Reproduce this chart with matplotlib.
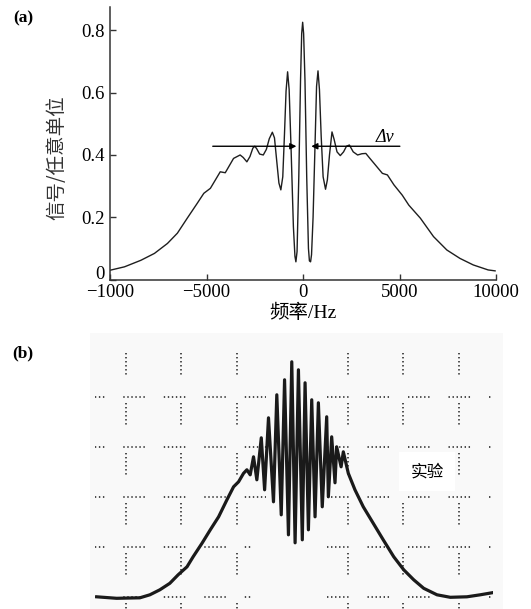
import matplotlib
matplotlib.use("Agg")
import matplotlib.pyplot as plt
import matplotlib.transforms as mtransforms
from matplotlib.patches import Rectangle

# -------------------------------
# (a) calculated spectrum
# -------------------------------
top_freq = [-10000, -9250, -8400, -7700, -7025, -6510, -6000, -5480, -5140, -4800,
            -4540, -4290, -4030, -3600, -3260, -3100, -2910, -2750, -2600, -2500,
            -2400, -2250, -2060, -1900, -1750, -1590, -1480, -1370, -1250, -1150,
            -1050, -960, -880, -800, -720, -620, -500, -420, -370, -310,
            -220, -130, -70, -20, 30, 100, 190, 280, 330, 390,
            440, 520, 620, 700, 775, 850, 940, 1040, 1165, 1260,
            1370, 1500, 1610, 1760, 1930, 2100, 2250, 2400, 2600, 2826,
            3050, 3253, 3450, 3680, 4110, 4370, 4710, 5140, 5480, 6080,
            6760, 7450, 8130, 8820, 9590, 9950]
top_signal = [0.030, 0.041, 0.062, 0.084, 0.116, 0.149, 0.197, 0.245, 0.277, 0.293,
              0.320, 0.346, 0.343, 0.389, 0.400, 0.392, 0.378, 0.395, 0.422, 0.428,
              0.420, 0.403, 0.400, 0.418, 0.452, 0.473, 0.455, 0.385, 0.310, 0.288,
              0.330, 0.470, 0.605, 0.667, 0.610, 0.420, 0.170, 0.075, 0.057, 0.090,
              0.330, 0.640, 0.790, 0.826, 0.790, 0.640, 0.330, 0.100, 0.060, 0.057,
              0.080, 0.200, 0.430, 0.620, 0.670, 0.610, 0.460, 0.330, 0.290, 0.320,
              0.400, 0.474, 0.450, 0.410, 0.398, 0.410, 0.428, 0.432, 0.410, 0.400,
              0.404, 0.405, 0.390, 0.373, 0.341, 0.336, 0.304, 0.271, 0.239, 0.197,
              0.138, 0.095, 0.068, 0.047, 0.031, 0.028]

x_ticks = [-10000, -5000, 0, 5000, 10000]
x_ticklabels = ["\u22121000", "\u22125000", "0", "5000", "10000"]
y_ticks = [0, 0.2, 0.4, 0.6, 0.8]
y_ticklabels = ["0", "0.2", "0.4", "0.6", "0.8"]

# -------------------------------
# (b) oscilloscope trace (grid divisions)
# -------------------------------
scope_x = [-3.53, -3.17, -2.75, -2.57, -2.39, -2.21, -2.06, -1.90, -1.79, -1.63,
           -1.48, -1.33, -1.18, -1.06, -0.97, -0.88, -0.82, -0.76, -0.70, -0.64,
           -0.56, -0.50, -0.43, -0.34, -0.28, -0.20, -0.14, -0.07, -0.01, 0.05,
           0.11, 0.18, 0.23, 0.29, 0.35, 0.41, 0.47, 0.54, 0.62, 0.65,
           0.71, 0.77, 0.80, 0.88, 0.92, 1.01, 1.13, 1.28, 1.46, 1.64,
           1.83, 2.01, 2.19, 2.37, 2.61, 2.85, 3.15, 3.39, 3.60]
scope_y = [0.01, -0.02, -0.01, 0.05, 0.15, 0.28, 0.45, 0.61, 0.81, 1.08,
           1.35, 1.61, 1.95, 2.21, 2.31, 2.48, 2.55, 2.45, 2.81, 2.35,
           3.19, 2.15, 3.59, 1.91, 4.05, 1.65, 4.35, 1.25, 4.71, 1.09,
           4.55, 1.15, 4.29, 1.35, 3.95, 1.61, 3.89, 1.81, 3.61, 2.01,
           3.21, 2.29, 3.01, 2.61, 2.91, 2.48, 2.15, 1.81, 1.48, 1.15,
           0.81, 0.55, 0.35, 0.18, 0.05, 0.00, 0.01, 0.05, 0.09]

grid_cols = [-3, -2, -1, 1, 2, 3]
grid_rows = [0, 1, 2, 3, 4]

plt.rcParams['lines.scale_dashes'] = False
serif = ['Liberation Serif', 'Noto Sans CJK SC']
cjk = ['Noto Sans CJK SC', 'DejaVu Sans']

fig = plt.figure(figsize=(5.31, 6.09), dpi=100)

# ---- panel (a) ----
ax1 = fig.add_axes([0.2072, 0.5409, 0.7270, 0.4476])
ax1.plot(top_freq, top_signal, color='#1e1e1e', lw=1.0)
ax1.set_xlim(-10000, 10000)
ax1.set_ylim(0, 0.875)
ax1.spines['top'].set_visible(False)
ax1.spines['right'].set_visible(False)
for s in ['left', 'bottom']:
    ax1.spines[s].set_linewidth(1.1)
    ax1.spines[s].set_color('#333333')
ax1.set_xticks(x_ticks)
ax1.set_xticklabels(x_ticklabels, family=serif, fontsize=13.5)
ax1.set_yticks(y_ticks)
ax1.set_yticklabels(y_ticklabels, family=serif, fontsize=13.5)
ax1.tick_params(direction='in', length=4, width=1, color='#333333', pad=4)
ax1.tick_params(axis='x', pad=3)

# lift the "0" on the y axis a little, as in the original
lbl0 = ax1.get_yticklabels()[0]
lbl0.set_transform(lbl0.get_transform() +
                   mtransforms.ScaledTranslation(0, 5 / 72, fig.dpi_scale_trans))

ax1.set_xlabel('频率/Hz', family=serif, fontsize=14)
ax1.xaxis.set_label_coords(0.5, -0.09)
ax1.set_ylabel('信号/任意单位', family=cjk, fontsize=14, color='#333333')
ax1.yaxis.set_label_coords(-0.111, 0.448)

arrow_kw = dict(arrowstyle='-|>', color='black', lw=1.0, mutation_scale=9,
                shrinkA=0, shrinkB=0)
ax1.annotate('', xy=(-344, 0.428), xytext=(-4677, 0.428), arrowprops=arrow_kw)
ax1.annotate('', xy=(427, 0.428), xytext=(5016, 0.428), arrowprops=arrow_kw)
ax1.text(4229, 0.456, 'Δν', family='Liberation Serif', style='italic',
         fontsize=13, ha='center', va='center')

fig.text(23 / 531, 1 - 18 / 609, '(a)', family='Liberation Serif',
         fontweight='bold', fontsize=12.5, ha='center', va='center')
fig.text(23 / 531, 1 - 353 / 609, '(b)', family='Liberation Serif',
         fontweight='bold', fontsize=12.5, ha='center', va='center')

# ---- panel (b) ----
fig.patches.append(Rectangle((90 / 531, 0), 413 / 531, 276 / 609,
                             transform=fig.transFigure, facecolor='#f9f9f9',
                             edgecolor='none', zorder=-5))
ax2 = fig.add_axes([0.1789, 0.0, 0.7495, 0.4302])
ax2.set_facecolor('none')
ax2.set_xlim(-3.56, 3.62)
ax2.set_ylim(-0.234, 5.006)
for s in ax2.spines.values():
    s.set_visible(False)
ax2.set_xticks([])
ax2.set_yticks([])

dots = [1, 1.9] * 5
v_style = (31.68, dots + [1, 20.5])
for xv in grid_cols:
    ax2.plot([xv, xv], [5.0, -0.25], color='#3c3c3c', lw=1.3, linestyle=v_style)
for yv in grid_rows:
    x_end = -0.47 if yv >= 2 else -0.73
    ax2.plot([-3.56, x_end], [yv, yv], color='#3c3c3c', lw=1.3,
             linestyle=(8.8, dots + [1, 13.66]))
    ax2.plot([0.623, 3.62], [yv, yv], color='#3c3c3c', lw=1.3,
             linestyle=(0, dots + [1, 13.66]))

ax2.plot(scope_x, scope_y, color='#1a1a1a', lw=2.3, zorder=3)
ax2.text(2.43, 2.51, '实验', family=cjk, fontsize=12, ha='center', va='center',
         bbox=dict(facecolor='white', edgecolor='none', pad=8))

fig.savefig('out.png', dpi=100)
